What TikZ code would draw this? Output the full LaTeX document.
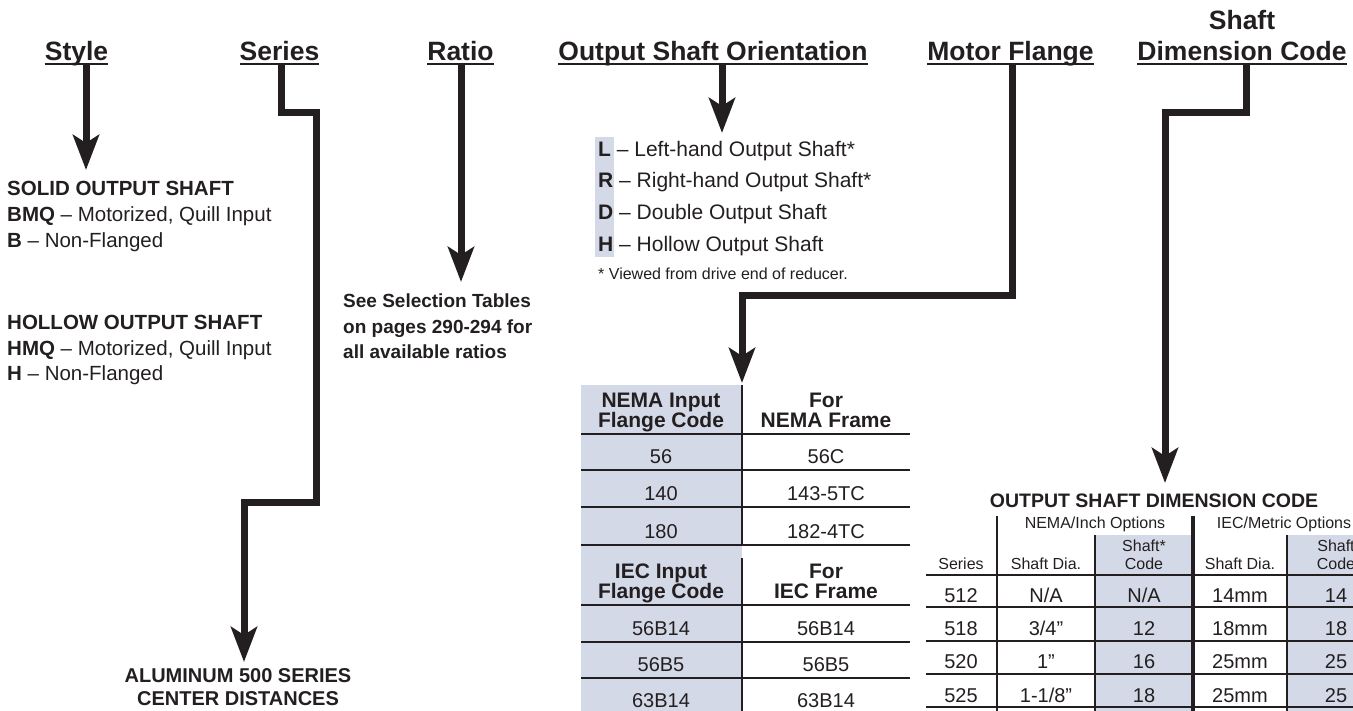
\documentclass[tikz,border=0pt]{standalone}
\usepackage{fontspec}
\setmainfont{Liberation Sans}
\usetikzlibrary{arrows.meta}
\definecolor{ink}{HTML}{231F20}
\definecolor{cellshade}{HTML}{D4D9E8}
\begin{document}
\begin{tikzpicture}[x=1pt,y=-1pt,
  conn/.style={draw=ink, line width=7pt, line join=miter, line cap=butt, -{Stealth[length=35pt,width=26pt,inset=8pt]}},
  hdr/.style={inner sep=0pt, anchor=base, text=ink, font=\fontsize{26.5}{30}\selectfont\bfseries},
  uline/.style={draw=ink, line width=1.5pt},
  body/.style={inner sep=0pt, anchor=base west, text=ink, font=\fontsize{20.5}{24}\selectfont},
  bodyb/.style={body, font=\fontsize{20.5}{24}\selectfont\bfseries},
  ratio/.style={body, font=\fontsize{19}{22}\selectfont\bfseries},
  orient/.style={body, font=\fontsize{21}{24}\selectfont},
  note/.style={body, font=\fontsize{16}{19}\selectfont},
  cellb/.style={inner sep=0pt, anchor=base, text=ink, font=\fontsize{21}{24}\selectfont\bfseries},
  cell/.style={inner sep=0pt, anchor=base, text=ink, font=\fontsize{20}{24}\selectfont},
  small/.style={inner sep=0pt, anchor=base, text=ink, font=\fontsize{16}{19}\selectfont},
  title/.style={inner sep=0pt, anchor=base, text=ink, font=\fontsize{19.5}{22}\selectfont\bfseries},
  shadefill/.style={fill=cellshade},
  thin/.style={draw=ink, line width=1.2pt},
  thick/.style={draw=ink, line width=2.5pt},
  vthick/.style={draw=ink, line width=4pt}
]
\useasboundingbox (0,0) rectangle (1353,711);

% ---------- headers ----------
\node[hdr] (hstyle) at (76.5,61) {Style};
\node[hdr] (hseries) at (279.5,61) {Series};
\node[hdr] (hratio) at (460.5,61) {Ratio};
\node[hdr] (horient) at (713,61) {Output Shaft Orientation};
\node[hdr] (hmotor) at (1010.5,61) {Motor Flange};
\node[hdr] (hshaft) at (1242,30) {Shaft};
\node[hdr] (hdim) at (1242,61) {Dimension Code};
\foreach \n in {hstyle,hseries,hratio,horient,hmotor,hdim}
  \draw[uline] ([yshift=-3pt]\n.base west) -- ([yshift=-3pt]\n.base east);

% ---------- style block ----------
\node[bodyb] (solid) at (7,196) {SOLID OUTPUT SHAFT};
\node[body] (bmq) at (7,222) {\textbf{BMQ} – Motorized, Quill Input};
\node[body] (bnf) at (7,248) {\textbf{B} – Non-Flanged};
\node[bodyb] (hollow) at (7,330) {HOLLOW OUTPUT SHAFT};
\node[body] (hmq) at (7,356) {\textbf{HMQ} – Motorized, Quill Input};
\node[body] (hnf) at (7,381) {\textbf{H} – Non-Flanged};

% ---------- ratio block ----------
\node[ratio] (r1) at (343,308) {See Selection Tables};
\node[ratio] (r2) at (343,334) {on pages 290-294 for};
\node[ratio] (r3) at (343,359) {all available ratios};

% ---------- series target ----------
\node[title, font=\fontsize{20}{22}\selectfont\bfseries] (alu1) at (238,682) {ALUMINUM 500 SERIES};
\node[title, font=\fontsize{20}{22}\selectfont\bfseries] (alu2) at (238,705) {CENTER DISTANCES};

% ---------- orientation block ----------
\path[shadefill] (595,137) rectangle (614,257);
\node[orient] (oL) at (598,157) {\textbf{L} – Left-hand Output Shaft*};
\node[orient] (oR) at (598,188) {\textbf{R} – Right-hand Output Shaft*};
\node[orient] (oD) at (598,220) {\textbf{D} – Double Output Shaft};
\node[orient] (oH) at (598,252) {\textbf{H} – Hollow Output Shaft};
\node[note] (onote) at (598,280) {* Viewed from drive end of reducer.};

% ---------- motor flange table ----------
\path[shadefill] (581,385) rectangle (742,711);
\draw[thin] (742,385) -- (742,545);
\draw[thin] (742,558) -- (742,711);
\draw[thick] (581,434) -- (910,434);
\draw[thin] (581,470) -- (910,470);
\draw[thin] (581,507) -- (910,507);
\draw[thick] (581,545) -- (910,545);
\draw[thick] (581,605) -- (910,605);
\draw[thin] (581,642) -- (910,642);
\draw[thin] (581,678) -- (910,678);
\node[cellb] (t1a) at (661,408) {NEMA Input};
\node[cellb] (t1b) at (661,428) {Flange Code};
\node[cellb] (t1c) at (826,408) {For};
\node[cellb] (t1d) at (826,428) {NEMA Frame};
\node[cell] (t2a) at (661,463) {56};
\node[cell] (t2b) at (826,463) {56C};
\node[cell] (t3a) at (661,500) {140};
\node[cell] (t3b) at (826,500) {143-5TC};
\node[cell] (t4a) at (661,538) {180};
\node[cell] (t4b) at (826,538) {182-4TC};
\node[cellb] (t5a) at (661,578) {IEC Input};
\node[cellb] (t5b) at (661,598) {Flange Code};
\node[cellb] (t5c) at (826,578) {For};
\node[cellb] (t5d) at (826,598) {IEC Frame};
\node[cell] (t6a) at (661,635) {56B14};
\node[cell] (t6b) at (826,635) {56B14};
\node[cell] (t7a) at (661,671) {56B5};
\node[cell] (t7b) at (826,671) {56B5};
\node[cell] (t8a) at (661,707) {63B14};
\node[cell] (t8b) at (826,707) {63B14};

% ---------- shaft dimension table ----------
\path[shadefill] (1095,535) rectangle (1191,711);
\path[shadefill] (1287,535) rectangle (1353,711);
\node[title] (sdtitle) at (1154,507) {OUTPUT SHAFT DIMENSION CODE};
\draw[thin] (997,516) -- (997,711);
\draw[thin] (1095,535) -- (1095,711);
\draw[vthick] (1193,516) -- (1193,711);
\draw[thin] (1287,535) -- (1287,711);
\draw[thick] (926,575) -- (1353,575);
\foreach \yy in {607,641,674,707} \draw[thin] (926,\yy) -- (1353,\yy);
\node[small] (nema) at (1095,528) {NEMA/Inch Options};
\node[small] (iec) at (1284,528) {IEC/Metric Options};
\node[small] (cser) at (961,569) {Series};
\node[small] (cdia1) at (1046,569) {Shaft Dia.};
\node[small] (ccode1a) at (1144,551) {Shaft*};
\node[small] (ccode1b) at (1144,569) {Code};
\node[small] (cdia2) at (1240,569) {Shaft Dia.};
\node[small] (ccode2a) at (1336,551) {Shaft};
\node[small] (ccode2b) at (1336,569) {Code};
\foreach \yy/\a/\b/\c/\d/\e [count=\i] in {602/512/N\slash A/N\slash A/14mm/14, 635/518/3\slash 4”/12/18mm/18, 668/520/1”/16/25mm/25, 702/525/1-1\slash 8”/18/25mm/25} {
  \node[cell] (ra\i) at (961,\yy) {\a};
  \node[cell] (rb\i) at (1046,\yy) {\b};
  \node[cell] (rc\i) at (1144,\yy) {\c};
  \node[cell] (rd\i) at (1240,\yy) {\d};
  \node[cell] (re\i) at (1336,\yy) {\e};
}

% ---------- connectors ----------
\coordinate (st0) at (86,65);   \coordinate (st1) at (86,170);
\coordinate (se0) at (281,65);  \coordinate (se1) at (281,113);
\coordinate (se2) at (316,113); \coordinate (se3) at (316,502);
\coordinate (se4) at (244,502); \coordinate (se5) at (244,662);
\coordinate (ra0) at (461,65);  \coordinate (ra1) at (461,282);
\coordinate (or0) at (722,65);  \coordinate (or1) at (722,133);
\coordinate (mf0) at (1012,65); \coordinate (mf1) at (1012,296);
\coordinate (mf2) at (742,296); \coordinate (mf3) at (742,383);
\coordinate (sd0) at (1246,65); \coordinate (sd1) at (1246,113);
\coordinate (sd2) at (1165,113);\coordinate (sd3) at (1165,483);
\draw[conn] (st0) -- (st1);
\draw[conn] (se0) -- (se1) -- (se2) -- (se3) -- (se4) -- (se5);
\draw[conn] (ra0) -- (ra1);
\draw[conn] (or0) -- (or1);
\draw[conn] (mf0) -- (mf1) -- (mf2) -- (mf3);
\draw[conn] (sd0) -- (sd1) -- (sd2) -- (sd3);
\end{tikzpicture}
\end{document}
